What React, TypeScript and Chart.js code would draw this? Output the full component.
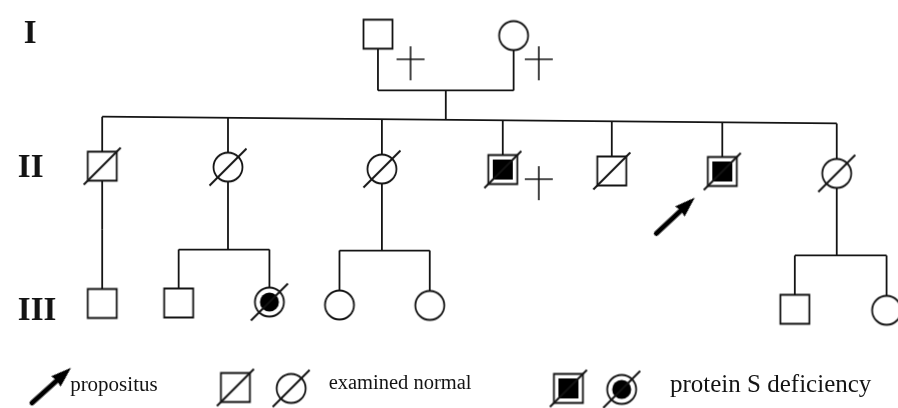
import { useEffect, useRef } from 'react';
import { Chart, registerables } from 'chart.js';

Chart.register(...registerables);

// ---------------- DATA ----------------
// Individuals of the pedigree (x = horizontal place, y = vertical place in the drawing space 0..898 × 0..408)
const personIds = ['I-1', 'I-2', 'II-1', 'II-2', 'II-3', 'II-4', 'II-5', 'II-6', 'II-7', 'III-1', 'III-2', 'III-3', 'III-4', 'III-5', 'III-6', 'III-7'];
const personX = [377, 514.5, 97.5, 225, 381, 503.5, 614, 726, 842, 97.5, 175, 267, 338, 429.5, 799.5, 892.5];
const personY = [29, 30.5, 165, 166, 168, 168.5, 170, 170.5, 172.5, 306.5, 306, 305, 308, 308.5, 312.5, 313.5];
const personSex = ['M', 'F', 'M', 'F', 'F', 'M', 'M', 'M', 'F', 'M', 'M', 'F', 'F', 'F', 'M', 'F'];
// N = not examined, E = examined normal, A = protein S deficiency
const personStatus = ['N', 'N', 'E', 'E', 'E', 'A', 'E', 'A', 'E', 'N', 'N', 'A', 'N', 'N', 'N', 'N'];

// Deceased marks
const deceasedIds = ['I-1', 'I-2', 'II-4'];
const deceasedMarkX = [410, 540, 540];
const deceasedMarkY = [59, 59, 182.5];

// Families
const familyParents = [['I-1', 'I-2'], ['II-2'], ['II-3'], ['II-7'], ['II-1']];
const familyChildren = [
  ['II-1', 'II-2', 'II-3', 'II-4', 'II-5', 'II-6', 'II-7'],
  ['III-2', 'III-3'],
  ['III-4', 'III-5'],
  ['III-6', 'III-7'],
  ['III-1'],
];
const familyBarY = [[114, 121], [251, 251], [252, 252], [257, 257], [230, 230]];
const coupleLineY = [87];

// Propositus arrows (pedigree + legend)
const arrowX = [678.5, 46];
const arrowY = [216, 391];
const arrowAngle = [-43, -42];

// Generation labels
const genLabels = ['I', 'II', 'III'];
const genLabelX = [18, 12, 12];
const genLabelY = [38, 176, 323];

// Legend
const legendSymSex = ['M', 'F', 'M', 'F'];
const legendSymStatus = ['E', 'E', 'A', 'A'];
const legendSymX = [232.5, 289, 570, 624];
const legendSymY = [393, 394, 394, 395];
const legendTexts = ['propositus', 'examined normal', 'protein S deficiency'];
const legendTextX = [65, 327, 673];
const legendTextY = [397, 395, 398];
const legendTextSize = [21, 20.5, 25];

// ---------------- DRAWING HELPERS ----------------
const INK = '#141414';
const HALF = 14.5;
const LW = 1.8;

function makeSymbol(sex: string, status: string): HTMLCanvasElement {
  const S = 48;
  const c = document.createElement('canvas');
  c.width = S;
  c.height = S;
  const g = c.getContext('2d')!;
  const m = S / 2;
  const h = HALF;
  g.lineWidth = LW;
  g.strokeStyle = INK;
  g.fillStyle = '#fff';
  g.beginPath();
  if (sex === 'M') g.rect(m - h, m - h, 2 * h, 2 * h);
  else g.arc(m, m, h, 0, Math.PI * 2);
  g.fill();
  g.stroke();
  if (status === 'A') {
    g.fillStyle = '#000';
    g.beginPath();
    if (sex === 'M') g.rect(m - h + 4.5, m - h + 4.5, 2 * h - 9, 2 * h - 9);
    else g.arc(m, m, h - 5, 0, Math.PI * 2);
    g.fill();
  }
  if (status !== 'N') {
    g.beginPath();
    g.lineWidth = 1.9;
    g.moveTo(m - 18.5, m + 18.5);
    g.lineTo(m + 18.5, m - 18.5);
    g.stroke();
  }
  return c;
}

function makeCross(): HTMLCanvasElement {
  const S = 40;
  const c = document.createElement('canvas');
  c.width = S;
  c.height = S;
  const g = c.getContext('2d')!;
  const m = S / 2;
  g.strokeStyle = INK;
  g.lineWidth = 1.6;
  g.beginPath();
  g.moveTo(m - 14, m - 4);
  g.lineTo(m + 14, m - 4);
  g.moveTo(m, m - 17);
  g.lineTo(m, m + 17);
  g.stroke();
  return c;
}

function makeArrow(): HTMLCanvasElement {
  const W = 64;
  const H = 20;
  const c = document.createElement('canvas');
  c.width = W;
  c.height = H;
  const g = c.getContext('2d')!;
  const m = W / 2;
  const my = H / 2;
  g.fillStyle = '#000';
  g.beginPath();
  g.moveTo(m - 26, my - 2.5);
  g.lineTo(m + 7, my - 2.5);
  g.lineTo(m + 6, my - 7);
  g.lineTo(m + 26.5, my);
  g.lineTo(m + 6, my + 7);
  g.lineTo(m + 7, my + 2.5);
  g.lineTo(m - 26, my + 2.5);
  g.arc(m - 26, my, 2.5, Math.PI / 2, Math.PI * 1.5);
  g.closePath();
  g.fill();
  return c;
}

function buildSegments(): { x: number; y: number }[][] {
  const idx = (id: string) => personIds.indexOf(id);
  const segs: { x: number; y: number }[][] = [];
  const seg = (x1: number, y1: number, x2: number, y2: number) =>
    segs.push([{ x: x1, y: y1 }, { x: x2, y: y2 }]);
  familyParents.forEach((parents, f) => {
    const kids = familyChildren[f].map(idx);
    const [yl, yr] = familyBarY[f];
    const xs = kids.map((k) => personX[k]);
    const xmin = Math.min(...xs);
    const xmax = Math.max(...xs);
    const barAt = (xx: number) => (xmax === xmin ? yl : yl + ((yr - yl) * (xx - xmin)) / (xmax - xmin));
    let dropX: number;
    let dropTop: number;
    if (parents.length === 2) {
      const [a, b] = parents.map(idx);
      const cy = coupleLineY[f];
      seg(personX[a], personY[a] + HALF, personX[a], cy);
      seg(personX[b], personY[b] + HALF, personX[b], cy);
      seg(personX[a], cy, personX[b], cy);
      dropX = (personX[a] + personX[b]) / 2;
      dropTop = cy;
    } else {
      const p = idx(parents[0]);
      dropX = personX[p];
      dropTop = personY[p] + HALF;
    }
    seg(dropX, dropTop, dropX, barAt(dropX));
    if (xmax > xmin) seg(xmin, barAt(xmin), xmax, barAt(xmax));
    kids.forEach((k) => seg(personX[k], barAt(personX[k]), personX[k], personY[k] - HALF));
  });
  return segs;
}

const textPlugin = {
  id: 'pedigreeText',
  afterDatasetsDraw(chart: any) {
    const { ctx, scales } = chart;
    const sx = scales.x;
    const sy = scales.y;
    ctx.save();
    ctx.fillStyle = INK;
    ctx.textAlign = 'left';
    ctx.textBaseline = 'alphabetic';
    ctx.font = 'bold 33px "Liberation Serif", "DejaVu Serif", serif';
    genLabels.forEach((t, i) => {
      ctx.fillText(t, sx.getPixelForValue(genLabelX[i]), sy.getPixelForValue(genLabelY[i]));
    });
    legendTexts.forEach((t, i) => {
      ctx.font = `${legendTextSize[i]}px "Liberation Serif", "DejaVu Serif", serif`;
      ctx.fillText(t, sx.getPixelForValue(legendTextX[i]), sy.getPixelForValue(legendTextY[i]));
    });
    ctx.restore();
  },
};

export default function App() {
  const ref = useRef<HTMLCanvasElement>(null);
  useEffect(() => {
    document.body.style.margin = '0';
    const canvas = ref.current!;
    const segDatasets = buildSegments().map((pts) => ({
      type: 'line' as const,
      data: pts,
      showLine: true,
      borderColor: INK,
      borderWidth: LW,
      pointRadius: 0,
      fill: false,
      tension: 0,
      clip: false as any,
      order: 10,
    }));
    const personData = personIds.map((_, i) => ({ x: personX[i], y: personY[i] }));
    const personStyles = personIds.map((_, i) => makeSymbol(personSex[i], personStatus[i]));
    const cross = makeCross();
    const arrow = makeArrow();
    const datasets: any[] = [
      ...segDatasets,
      {
        type: 'scatter',
        data: personData,
        pointStyle: personStyles,
        pointRadius: 5,
        clip: false,
        order: 1,
      },
      {
        type: 'scatter',
        data: deceasedIds.map((_, i) => ({ x: deceasedMarkX[i], y: deceasedMarkY[i] })),
        pointStyle: cross,
        pointRadius: 5,
        clip: false,
        order: 1,
      },
      {
        type: 'scatter',
        data: arrowX.map((x, i) => ({ x, y: arrowY[i] })),
        pointStyle: arrow,
        rotation: arrowAngle,
        pointRotation: arrowAngle,
        pointRadius: 5,
        clip: false,
        order: 1,
      },
      {
        type: 'scatter',
        data: legendSymX.map((x, i) => ({ x, y: legendSymY[i] })),
        pointStyle: legendSymX.map((_, i) => makeSymbol(legendSymSex[i], legendSymStatus[i])),
        pointRadius: 5,
        clip: false,
        order: 1,
      },
    ];
    const chart = new Chart(canvas, {
      type: 'scatter',
      data: { datasets },
      options: {
        animation: false,
        responsive: false,
        events: [],
        layout: { padding: 0 },
        plugins: { legend: { display: false }, tooltip: { enabled: false }, title: { display: false } },
        scales: {
          x: { type: 'linear', min: 0, max: 898, display: false },
          y: { type: 'linear', min: 0, max: 408, reverse: true, display: false },
        },
      },
      plugins: [textPlugin],
    } as any);
    return () => chart.destroy();
  }, []);
  return (
    <div style={{ width: 898, height: 408, background: '#fff' }}>
      <canvas ref={ref} width={898} height={408} style={{ display: 'block' }} />
    </div>
  );
}
